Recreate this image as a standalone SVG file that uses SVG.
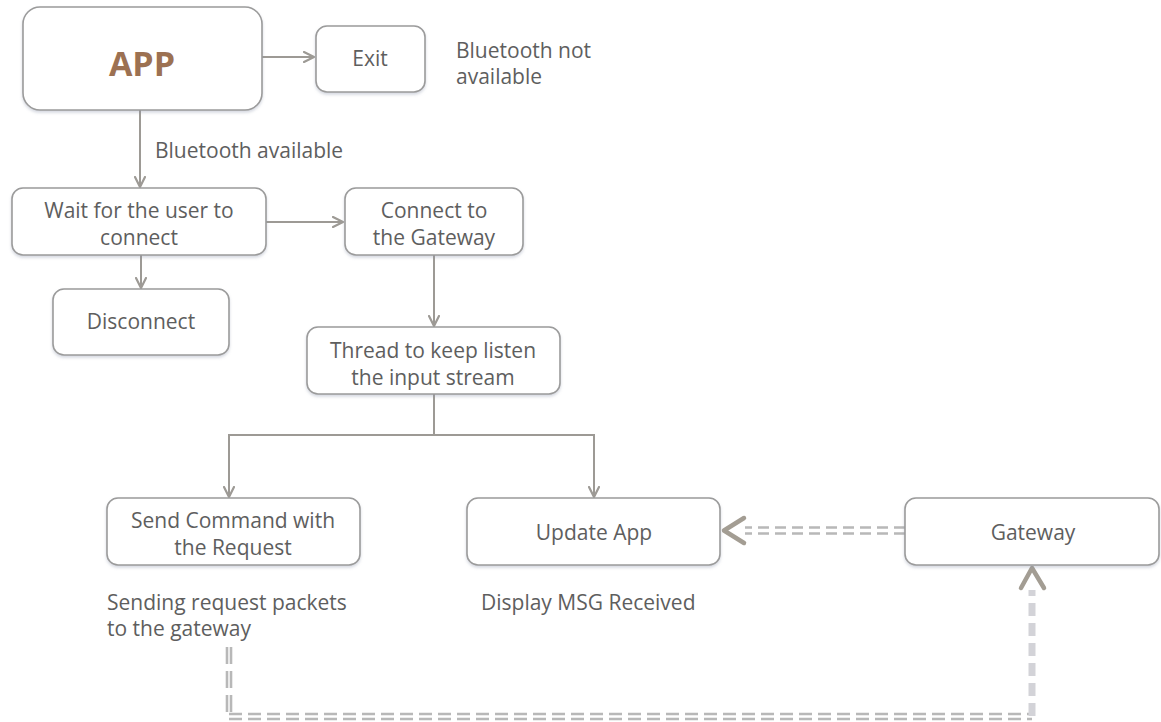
<svg xmlns="http://www.w3.org/2000/svg" width="1161" height="722" viewBox="0 0 1161 722">
  <style>
    .box { fill: #ffffff; stroke: #9b9b9b; stroke-width: 1.6; filter: url(#shadow); }
    .txt { font-family: "Open Sans", "Noto Sans", sans-serif; font-size: 21px; fill: #5e5e5e; }
    .mid { text-anchor: middle; }
    .app { font-family: "Open Sans", "Noto Sans", sans-serif; font-size: 34px; font-weight: bold; fill: #9c7152; text-anchor: middle; }
    .flow { fill: none; stroke: #9d9a95; stroke-width: 2; }
    .head { fill: none; stroke: #9d9a95; stroke-width: 2.2; stroke-linecap: round; stroke-linejoin: round; }
    .dbl { fill: none; stroke: #b8b8b8; stroke-width: 2.6; }
    .thick { fill: none; stroke: #d3d3d8; stroke-width: 7; stroke-dasharray: 13 7; }
    .bighead { fill: none; stroke: #a39d93; stroke-width: 4.5; stroke-linecap: round; stroke-linejoin: round; }
  </style>
  <defs>
    <filter id="shadow" x="-5%" y="-10%" width="110%" height="130%">
      <feDropShadow dx="0" dy="2" stdDeviation="1.5" flood-color="#8890a8" flood-opacity="0.35"/>
    </filter>
    <marker id="arrow" viewBox="0 0 12 12" refX="11" refY="6" markerWidth="12" markerHeight="12" markerUnits="userSpaceOnUse" orient="auto">
      <path d="M1 1 L11 6 L1 11" class="head"/>
    </marker>
  </defs>

  <rect width="1161" height="722" fill="#ffffff"/>

  <!-- connectors -->
  <g id="connectors">
    <line class="flow" x1="262" y1="57" x2="314" y2="57" marker-end="url(#arrow)"/>
    <line class="flow" x1="140" y1="110" x2="140" y2="187" marker-end="url(#arrow)"/>
    <line class="flow" x1="266" y1="222" x2="343" y2="222" marker-end="url(#arrow)"/>
    <line class="flow" x1="141" y1="255" x2="141" y2="288" marker-end="url(#arrow)"/>
    <line class="flow" x1="434" y1="255" x2="434" y2="326" marker-end="url(#arrow)"/>
    <path class="flow" d="M434 394 V435 M228 435 H595"/>
    <line class="flow" x1="229" y1="434" x2="229" y2="497" marker-end="url(#arrow)"/>
    <line class="flow" x1="594" y1="434" x2="594" y2="497" marker-end="url(#arrow)"/>

    <!-- Gateway to Update App -->
    <g class="dbl" stroke-dasharray="11 6">
      <line x1="905" y1="527.5" x2="745" y2="527.5"/>
      <line x1="905" y1="533.5" x2="745" y2="533.5"/>
    </g>
    <path class="bighead" d="M744 518 L724 530.5 L744 543"/>

    <!-- Send Command to Gateway -->
    <g class="dbl" stroke-dasharray="17 7">
      <line x1="227" y1="647" x2="227" y2="713"/>
      <line x1="231" y1="647" x2="231" y2="713"/>
    </g>
    <g class="dbl" stroke-dasharray="13 6">
      <line x1="229" y1="714" x2="1032" y2="714"/>
      <line x1="229" y1="719" x2="1032" y2="719"/>
    </g>
    <line class="thick" x1="1032" y1="716" x2="1032" y2="590"/>
    <path class="bighead" d="M1021 588 L1032 568 L1044 588"/>
  </g>

  <!-- nodes -->
  <g id="node-app">
    <rect class="box" x="23" y="7" width="239" height="103" rx="17"/>
    <text class="app" x="142" y="76">APP</text>
  </g>
  <g id="node-exit">
    <rect class="box" x="316" y="26" width="109" height="66" rx="11"/>
    <text class="txt mid" x="370" y="66">Exit</text>
  </g>
  <g id="note-not-available">
    <text class="txt" x="456" y="58">Bluetooth not</text>
    <text class="txt" x="456" y="84">available</text>
  </g>
  <g id="note-available">
    <text class="txt" x="155" y="158">Bluetooth available</text>
  </g>
  <g id="node-wait">
    <rect class="box" x="12" y="188" width="254" height="67" rx="11"/>
    <text class="txt mid" x="139" y="218">Wait for the user to</text>
    <text class="txt mid" x="139" y="245">connect</text>
  </g>
  <g id="node-connect">
    <rect class="box" x="345" y="188" width="178" height="67" rx="11"/>
    <text class="txt mid" x="434" y="218">Connect to</text>
    <text class="txt mid" x="434" y="245">the Gateway</text>
  </g>
  <g id="node-disconnect">
    <rect class="box" x="53" y="289" width="176" height="66" rx="11"/>
    <text class="txt mid" x="141" y="329">Disconnect</text>
  </g>
  <g id="node-thread">
    <rect class="box" x="307" y="327" width="253" height="67" rx="11"/>
    <text class="txt mid" x="433" y="358">Thread to keep listen</text>
    <text class="txt mid" x="433" y="385">the input stream</text>
  </g>
  <g id="node-send">
    <rect class="box" x="107" y="498" width="253" height="67" rx="11"/>
    <text class="txt mid" x="233" y="528">Send Command with</text>
    <text class="txt mid" x="233" y="555">the Request</text>
  </g>
  <g id="note-send">
    <text class="txt" x="107" y="610">Sending request packets</text>
    <text class="txt" x="107" y="636">to the gateway</text>
  </g>
  <g id="node-update">
    <rect class="box" x="467" y="498" width="253" height="67" rx="11"/>
    <text class="txt mid" x="594" y="540">Update App</text>
  </g>
  <g id="note-update">
    <text class="txt" x="481" y="610">Display MSG Received</text>
  </g>
  <g id="node-gateway">
    <rect class="box" x="905" y="498" width="254" height="67" rx="11"/>
    <text class="txt mid" x="1033" y="540">Gateway</text>
  </g>
</svg>
